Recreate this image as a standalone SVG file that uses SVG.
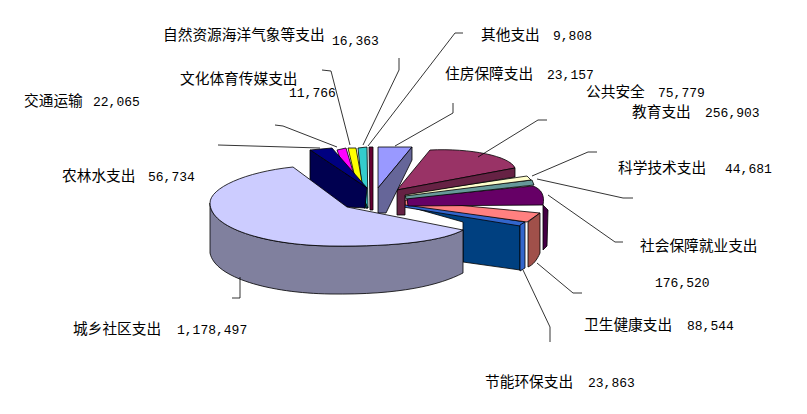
<svg xmlns="http://www.w3.org/2000/svg" width="807" height="414" viewBox="0 0 807 414">
<style>
text{font-family:"Noto Sans CJK SC","Liberation Sans",sans-serif;font-size:14.7px;fill:#000}
.n{font-family:"Liberation Mono",monospace;font-size:13px}
.e{stroke:#000;stroke-width:0.8;stroke-linejoin:round}
.l{fill:none;stroke:#000;stroke-width:0.8}
</style>
<rect width="807" height="414" fill="#fff"/>
<g id="slice-jieneng">
<path class="e" fill="#004080" d="M403,205 L520,225 L520,270 L463,262 L463,222 Z"/>
<path class="e" fill="#3366cc" d="M403,203 L525,222 L520,226 L403,207 Z"/>
<path class="e" fill="#3366cc" d="M520,225 L525,222 L525,268 L520,271 Z"/>
</g>
<g id="slice-weisheng">
<path class="e" fill="#FF8080" d="M405,200 L540,213 L527,222 L405,205 Z"/>
<path class="e" fill="#A0504A" d="M540,213 L540,253 C537,260 533,265 528,267 L528,222 Z"/>
</g>
<g id="slice-shehui">
<path class="e" fill="#660066" d="M407,198 L533,186 C541,189 545,195 543,205 L408,206 Z"/>
<path class="e" fill="#440044" d="M543,205 L548,210 L547,246 L543,250 Z"/>
</g>
<g id="slice-keji">
<path class="e" fill="#669999" d="M405,195 L532,180 L534,185 L406,199 Z"/>
</g>
<g id="slice-jiaoyu">
<path class="e" fill="#FFFFCC" d="M404,194 L527,176 L531,180 L405,196 Z"/>
</g>
<g id="slice-gonggong">
<path class="e" fill="#993366" d="M397,190 L430,150 C470,148 510,156 515,168 Z"/>
<path class="e" fill="#662244" d="M397,190 L515,168 L515,177 L405,195 L405,215 L397,215 Z"/>
</g>
<g id="slice-zhufang">
<path class="e" fill="#9999FF" d="M378,147 L412,147 L378,188 Z"/>
<path class="e" fill="#666699" d="M412,147 L412,160 L386,213 L378,213 L378,188 Z"/>
</g>
<g id="slice-qita">
<path class="e" fill="#660033" d="M369,147 L373,147 L373,210 L370,210 Z"/>
</g>
<g id="slice-ziran">
<path class="e" fill="#33CCCC" d="M358,148 L367,147 L368,208 L364,208 Z"/>
<path class="e" fill="#006666" d="M364,200 L368,208 L366,208 Z"/>
</g>
<g id="slice-wenhua">
<path class="e" fill="#FFFF00" d="M348,148 L356,148 L366,205 L362,207 Z"/>
</g>
<g id="slice-jiaotong">
<path class="e" fill="#FF00FF" d="M337,150 L346,148 L363,205 L358,207 Z"/>
</g>
<g id="slice-nonglin">
<path class="e" fill="#000080" d="M310,150 L332,148 L367,188 Z"/>
<path class="e" fill="#000050" d="M310,150 L367,188 L365,208 L347,207 L310,185 Z"/>
</g>
<g id="slice-chengxiang">
<path class="e" fill="#80809E" d="M210,203 L210,253 C215,278 270,293 330,294 C400,295 440,285 463,273 L463,230 C445,240 400,247 330,246 C265,245 210,228 210,203 Z"/>
<path class="e" fill="#CCCCFF" d="M347,207 L293,167 C245,172 210,188 210,203 C210,228 265,245 330,246 C400,247 445,240 463,230 Z"/>
</g>
<g id="connectors">
<polyline class="l" points="399,58 399,70 363,145"/>
<polyline class="l" points="322,70 331,71 350,145"/>
<polyline class="l" points="275,125 283,126 337,147"/>
<polyline class="l" points="218,145 320,148"/>
<polyline class="l" points="463,33 455,33 368,146"/>
<polyline class="l" points="453,103 453,113 395,146"/>
<polyline class="l" points="547,120 538,120 478,157"/>
<polyline class="l" points="597,152 588,152 532,176"/>
<polyline class="l" points="537,179 623,198 633,198"/>
<polyline class="l" points="548,195 615,242 623,242"/>
<polyline class="l" points="537,263 573,293 582,293"/>
<polyline class="l" points="523,270 550,327 550,342"/>
<polyline class="l" points="240,277 240,298 232,298"/>
</g>
<g id="labels">
<text x="163" y="40">自然资源海洋气象等支出</text><text class="n" x="332" y="45">16,363</text>
<text x="180" y="84">文化体育传媒支出</text><text class="n" x="289" y="97">11,766</text>
<text x="24" y="106">交通运输</text><text class="n" x="93" y="106">22,065</text>
<text x="481" y="40">其他支出</text><text class="n" x="553" y="40">9,808</text>
<text x="445" y="79">住房保障支出</text><text class="n" x="547" y="79">23,157</text>
<text x="586" y="97">公共安全</text><text class="n" x="658" y="97">75,779</text>
<text x="632" y="117">教育支出</text><text class="n" x="705" y="117">256,903</text>
<text x="618" y="173">科学技术支出</text><text class="n" x="725" y="173">44,681</text>
<text x="62" y="181">农林水支出</text><text class="n" x="148" y="181">56,734</text>
<text x="640" y="251">社会保障就业支出</text>
<text class="n" x="655" y="287">176,520</text>
<text x="584" y="330">卫生健康支出</text><text class="n" x="687" y="330">88,544</text>
<text x="73" y="334">城乡社区支出</text><text class="n" x="177" y="334">1,178,497</text>
<text x="485" y="387">节能环保支出</text><text class="n" x="588" y="387">23,863</text>
</g>
</svg>
